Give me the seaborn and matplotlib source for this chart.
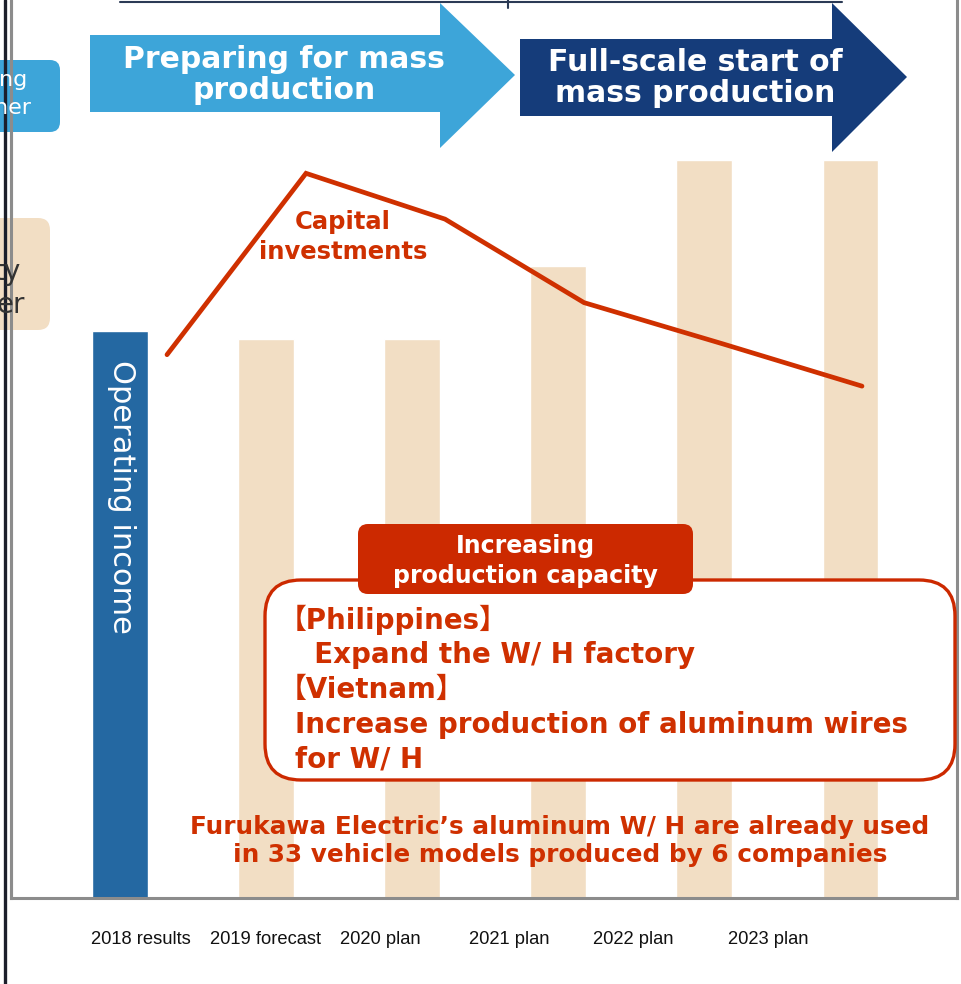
import numpy as np
import pandas as pd
import matplotlib
matplotlib.use("Agg")
import matplotlib.pyplot as plt
import seaborn as sns
from matplotlib.patches import Polygon, FancyBboxPatch

# -----------------------------
# DATA
# -----------------------------
years = ["2018 results", "2019 forecast", "2020 plan", "2021 plan", "2022 plan", "2023 plan"]
operating_income = [63.1, 62.2, 62.2, 70.4, 82.2, 82.2]
capital_investments = [60.5, 80.7, 75.6, 66.3, 61.7, 57.0]

phase_labels = ["Preparing for mass\nproduction", "Full-scale start of\nmass production"]
capex_label = "Capital\ninvestments"
bar_label = "Operating income"
box_title = "Increasing\nproduction capacity"
box_lines = ["【Philippines】", "  Expand the W/ H factory", "【Vietnam】",
             "Increase production of aluminum wires", "for W/ H"]
footnote = "Furukawa Electric’s aluminum W/ H are already used\nin 33 vehicle models produced by 6 companies"

# -----------------------------
# STYLE
# -----------------------------
BLUE_BAR = "#2468a2"
BEIGE = "#f2dec4"
LIGHT_BLUE = "#3da5d9"
NAVY = "#153c7a"
RED = "#cf3000"
RED_BOX = "#cc2900"
FRAME = "#8c8c8c"
bar_colors = [BLUE_BAR] + [BEIGE] * 5

sns.set_theme(style="white")
plt.rcParams["font.family"] = ["DejaVu Sans", "Noto Sans CJK JP"]

fig = plt.figure(figsize=(9.61, 9.84), dpi=100)

# main chart area (pixel frame: x 10.5..956.5, bottom at y=898)
ax = fig.add_axes([10.5 / 961, 86 / 984, 946 / 961, 898 / 984])
df = pd.DataFrame({"year": years, "income": operating_income})
sns.barplot(data=df, x="year", y="income", hue="year", palette=bar_colors,
            width=0.383, saturation=1, legend=False, ax=ax)

# capital investments line on its own x scale
ax2 = ax.twiny()
sns.lineplot(x=np.arange(len(years)), y=capital_investments, ax=ax2,
             color=RED, linewidth=3.4, solid_capstyle="round", solid_joinstyle="miter")
ax2.set_xlim(-1.1259, 5.6798)
ax2.axis("off")

ax.set_xlim(-0.7495, 5.7255)
ax.set_ylim(0, 100)
ax.set_xticks([])
ax.set_yticks([])
ax.set_xlabel("")
ax.set_ylabel("")
ax.spines["top"].set_visible(False)
for s in ["left", "bottom", "right"]:
    ax.spines[s].set_color(FRAME)
    ax.spines[s].set_linewidth(2.2)

# -----------------------------
# OVERLAY (pixel coordinates)
# -----------------------------
ov = fig.add_axes([0, 0, 1, 1])
ov.set_xlim(0, 961)
ov.set_ylim(984, 0)
ov.axis("off")
ov.set_zorder(10)
ov.patch.set_alpha(0)

# phase arrows
ov.add_patch(Polygon([(90, 35), (440, 35), (440, 3), (515, 75), (440, 148), (440, 112), (90, 112)],
                     closed=True, color=LIGHT_BLUE, lw=0))
ov.add_patch(Polygon([(520, 39), (832, 39), (832, 3), (907, 77), (832, 152), (832, 116), (520, 116)],
                     closed=True, color=NAVY, lw=0))
ov.text(284, 75, phase_labels[0], color="white", fontsize=21.5, fontweight="bold",
        ha="center", va="center", linespacing=1.08)
ov.text(695, 78, phase_labels[1], color="white", fontsize=21.5, fontweight="bold",
        ha="center", va="center", linespacing=1.08)

# top rule
ov.plot([120, 842], [2, 2], color="#2b3a55", lw=1.5)
ov.plot([508, 508], [0, 8], color="#2b3a55", lw=1.5)

# capital investments label
ov.text(343, 237, capex_label, color=RED, fontsize=17.5, fontweight="bold",
        ha="center", va="center", linespacing=1.3)

# bar label
ov.text(121, 497, bar_label, color="white", fontsize=22, rotation=-90,
        ha="center", va="center")

# production capacity box
ov.add_patch(FancyBboxPatch((265, 580), 690, 200, boxstyle="round,pad=0,rounding_size=36",
                            facecolor="white", edgecolor=RED_BOX, lw=2.4))
ov.add_patch(FancyBboxPatch((358, 524), 335, 70, boxstyle="round,pad=0,rounding_size=10",
                            facecolor=RED_BOX, edgecolor="none"))
ov.text(525, 561, box_title, color="white", fontsize=17, fontweight="bold",
        ha="center", va="center", linespacing=1.3)
line_y = [620, 655, 690, 725, 760]
line_x = [279, 295, 279, 295, 295]
for txt, xx, yy in zip(box_lines, line_x, line_y):
    ov.text(xx, yy, txt, color=RED, fontsize=20, fontweight="bold", ha="left", va="center")

ov.text(560, 841, footnote, color=RED, fontsize=17.8, fontweight="bold",
        ha="center", va="center", linespacing=1.25)

# partial side boxes from the neighbouring panel
ov.add_patch(FancyBboxPatch((-30, 60), 90, 72, boxstyle="round,pad=0,rounding_size=10",
                            facecolor=LIGHT_BLUE, edgecolor="none"))
ov.text(27, 80, "ng", color="white", fontsize=16, ha="right", va="center")
ov.text(31, 108, "her", color="white", fontsize=16, ha="right", va="center")
ov.add_patch(FancyBboxPatch((-30, 218), 80, 112, boxstyle="round,pad=0,rounding_size=12",
                            facecolor=BEIGE, edgecolor="none"))
ov.text(20, 272, "ty", color="#333333", fontsize=20, ha="right", va="center")
ov.text(25, 305, "er", color="#333333", fontsize=20, ha="right", va="center")

# left page edges
ov.plot([4.5, 4.5], [0, 984], color="#1c1f2b", lw=2.4)
ov.plot([10.5, 10.5], [0, 898], color=FRAME, lw=2.2)

# category labels
tick_x = [140.5, 266, 380, 509, 633.5, 768.5]
for lab, xx in zip(years, tick_x):
    ov.text(xx, 939, lab, fontsize=13.2, family="Liberation Sans", color="#111111",
            ha="center", va="center")

fig.savefig("out.png", dpi=100)
plt.close(fig)
